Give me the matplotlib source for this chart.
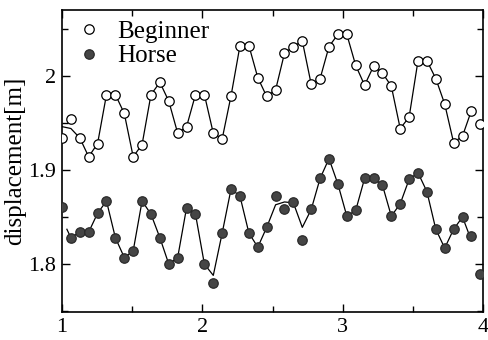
import numpy as np
import matplotlib
matplotlib.use('Agg')
import matplotlib.pyplot as plt
from matplotlib.ticker import MultipleLocator, FuncFormatter

plt.rcParams['font.family'] = ['Liberation Serif', 'DejaVu Serif']

# sample times [s]
t = np.linspace(1.0, 3.98, 48)

# measured points
beginner = [1.934, 1.954, 1.934, 1.914, 1.928, 1.980, 1.980, 1.960, 1.914, 1.927,
            1.980, 1.993, 1.973, 1.939, 1.946, 1.980, 1.980, 1.939, 1.933, 1.979,
            2.032, 2.032, 1.998, 1.978, 1.985, 2.024, 2.031, 2.037, 1.991, 1.997,
            2.031, 2.044, 2.044, 2.011, 1.990, 2.010, 2.003, 1.989, 1.944, 1.956,
            2.016, 2.016, 1.997, 1.970, 1.929, 1.936, 1.963, 1.949]
horse = [1.861, 1.828, 1.834, 1.834, 1.854, 1.867, 1.828, 1.807, 1.814, 1.867,
         1.853, 1.828, 1.800, 1.807, 1.860, 1.853, 1.800, 1.780, 1.833, 1.880,
         1.872, 1.833, 1.818, 1.839, 1.872, 1.858, 1.866, 1.826, 1.858, 1.891,
         1.912, 1.885, 1.851, 1.857, 1.891, 1.891, 1.884, 1.851, 1.864, 1.890,
         1.897, 1.877, 1.837, 1.817, 1.837, 1.850, 1.830, 1.789]

# fitted curves (drawn as thin lines)
beginner_fit = [1.946, 1.944] + beginner[2:47]
horse_fit_t = [1.035] + list(t[1:47])
horse_fit = [1.837, 1.828, 1.834, 1.834, 1.854, 1.867, 1.828, 1.807, 1.814, 1.867,
             1.853, 1.828, 1.800, 1.807, 1.860, 1.853, 1.800, 1.788, 1.833, 1.880,
             1.872, 1.833, 1.818, 1.839, 1.863, 1.866, 1.865, 1.839, 1.858, 1.891,
             1.912, 1.885, 1.851, 1.857, 1.891, 1.891, 1.884, 1.851, 1.864, 1.890,
             1.897, 1.877, 1.837, 1.817, 1.837, 1.850, 1.825]

fig = plt.figure(figsize=(4.88, 3.4), dpi=100)
ax = fig.add_axes([0.127, 0.082, 0.863, 0.889])

ax.plot(t[:47], beginner_fit, color='black', lw=0.9, zorder=2)
ax.plot(horse_fit_t, horse_fit, color='black', lw=0.9, zorder=2)
ax.plot(t, beginner, 'o', ms=6.8, mfc='white', mec='black', mew=0.9,
        label='Beginner', zorder=3)
ax.plot(t, horse, 'o', ms=6.8, mfc='#454545', mec='#2a2a2a', mew=0.9,
        label='Horse', zorder=3)

ax.set_xlim(1, 4)
ax.set_ylim(1.749, 2.07)
ax.xaxis.set_major_locator(MultipleLocator(1))
ax.xaxis.set_minor_locator(MultipleLocator(0.5))
ax.yaxis.set_major_locator(MultipleLocator(0.1))
ax.yaxis.set_minor_locator(MultipleLocator(0.05))
ax.yaxis.set_major_formatter(FuncFormatter(lambda v, p: '%g' % round(v, 2)))
ax.tick_params(which='both', direction='in', top=True, right=True, width=1)
ax.tick_params(which='major', length=6, labelsize=16, pad=4)
ax.tick_params(which='minor', length=4)
for s in ax.spines.values():
    s.set_linewidth(1.2)

ax.set_ylabel('displacement[m]', fontsize=18, labelpad=2)

ax.legend(loc='upper left', bbox_to_anchor=(0.034, 0.965), frameon=False,
          fontsize=18, handlelength=1.0, handletextpad=0.62, labelspacing=0.08,
          borderpad=0, borderaxespad=0)

fig.savefig('out.png', dpi=100)
